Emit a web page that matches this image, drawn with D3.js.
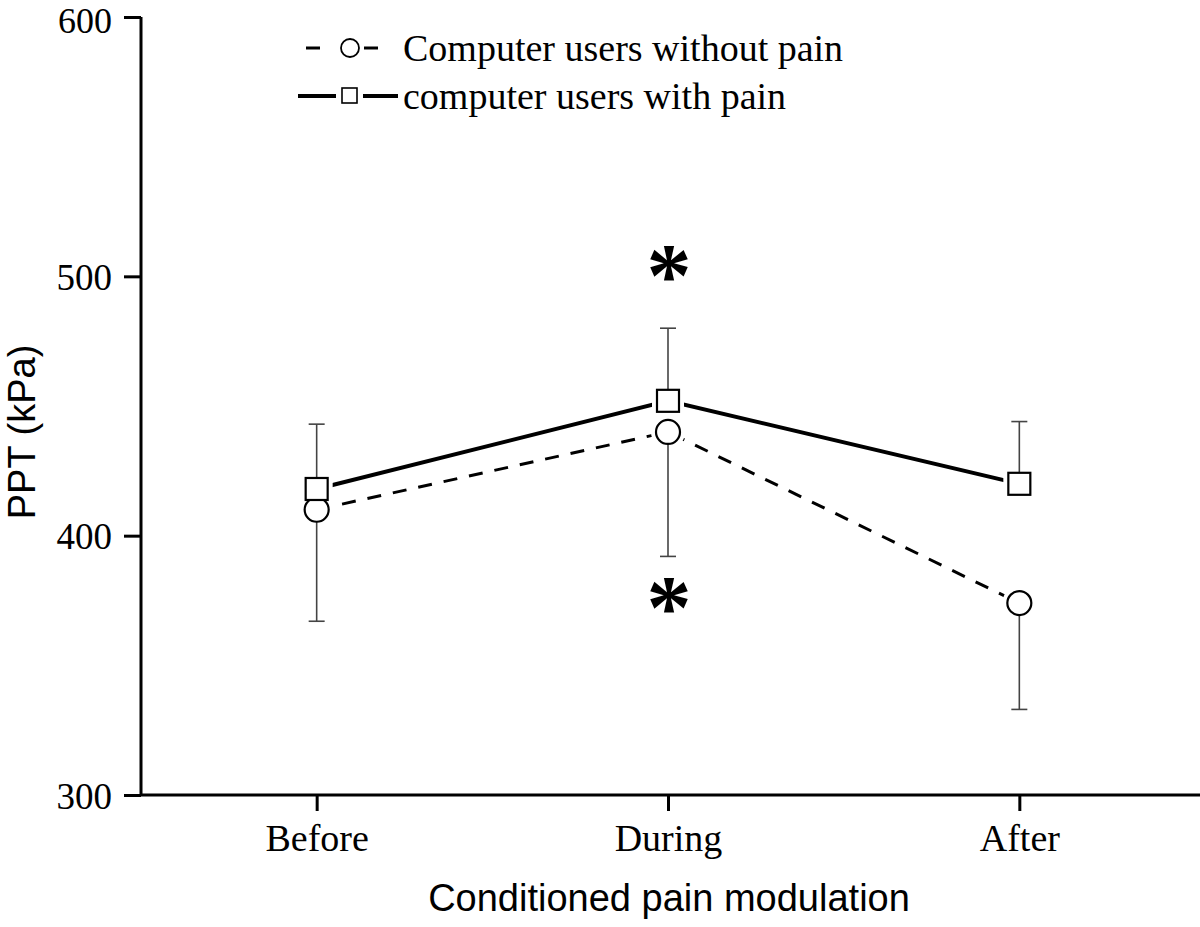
<!DOCTYPE html>
<html><head><meta charset="utf-8">
<script src="https://cdn.jsdelivr.net/npm/d3@7"></script>
<style>body{margin:0;background:#fff}</style>
</head><body>
<svg id="c" width="1200" height="927"></svg>
<script>
const categories = ["Before", "During", "After"];
const withoutPain = [410, 440, 374];
const withoutPainErrLow = [367, 392, 333];
const withPain = [418, 452, 420];
const withPainErrHigh = [443, 480, 444];
const yTicks = [300, 400, 500, 600];
const seriesNames = ["Computer users without pain", "computer users with pain"];
const asterisks = [{cat: "During", v: 505}, {cat: "During", v: 377}];

const svg = d3.select("#c");
const x = d3.scaleLinear().domain([-0.5, 2.5]).range([141, 1195]);
const y = d3.scaleLinear().domain([300, 600]).range([795, 17]);
const xc = c => x(categories.indexOf(c));
const serif = "'Liberation Serif','Times New Roman',serif";
const sans = "'Liberation Sans',Arial,sans-serif";

// axes
const yAxis = svg.append("g").attr("transform", "translate(141,0)")
  .call(d3.axisLeft(y).tickValues(yTicks).tickSize(17).tickPadding(12).tickFormat(d3.format("d")));
yAxis.select(".domain").attr("d", `M0,${y(600)}V${y(300)}`).attr("stroke-width", 3);
yAxis.selectAll(".tick line").attr("stroke-width", 3);
yAxis.selectAll("text").attr("font-family", serif).attr("font-size", 37).attr("fill", "#000").attr("dy", "0.36em");
yAxis.selectAll("text").filter(d => d === 600).attr("font-size", 36).attr("dy", "0.44em");

const xAxis = svg.append("g").attr("transform", "translate(0,795)")
  .call(d3.axisBottom(x).tickValues([0,1,2]).tickSize(16).tickPadding(13).tickFormat(i => categories[i]));
xAxis.select(".domain").attr("d", `M141,0H1200`).attr("stroke-width", 3);
xAxis.selectAll(".tick line").attr("stroke-width", 3);
xAxis.selectAll("text").attr("font-family", serif).attr("font-size", 38).attr("fill", "#000");

// titles
svg.append("text").attr("transform", "translate(35,432) rotate(-90)").attr("text-anchor", "middle")
  .attr("font-family", sans).attr("font-size", 38).text("PPT (kPa)");
svg.append("text").attr("x", 669).attr("y", 911).attr("text-anchor", "middle")
  .attr("font-family", sans).attr("font-size", 38).text("Conditioned pain modulation");

// lines
const line = d3.line().x((d,i) => x(i)).y(d => y(d));
svg.append("path").datum(withPain).attr("d", line).attr("fill", "none")
  .attr("stroke", "#000").attr("stroke-width", 4);
svg.append("path").datum(withoutPain).attr("d", line).attr("fill", "none")
  .attr("stroke", "#000").attr("stroke-width", 3).attr("stroke-dasharray", "14,12");

// white halos around markers (gap between line and marker)
svg.selectAll(".hc").data(withoutPain).enter().append("circle")
  .attr("cx", (d,i) => x(i)).attr("cy", d => y(d)).attr("r", 12)
  .attr("fill", "#fff").attr("stroke", "#fff").attr("stroke-width", 10);
svg.selectAll(".hs").data(withPain).enter().append("rect")
  .attr("x", (d,i) => x(i) - 11).attr("y", d => y(d) - 11).attr("width", 22).attr("height", 22)
  .attr("fill", "#fff").attr("stroke", "#fff").attr("stroke-width", 10);

// error bars
function errBar(xv, y0, y1) {
  svg.append("line").attr("x1", xv).attr("x2", xv).attr("y1", y(y0)).attr("y2", y(y1))
    .attr("stroke", "#444").attr("stroke-width", 1.6);
  svg.append("line").attr("x1", xv - 8).attr("x2", xv + 8).attr("y1", y(y1)).attr("y2", y(y1))
    .attr("stroke", "#444").attr("stroke-width", 1.6);
}
categories.forEach((c, i) => {
  errBar(x(i), withPain[i], withPainErrHigh[i]);
  errBar(x(i), withoutPain[i], withoutPainErrLow[i]);
});

// markers
svg.selectAll(".circ").data(withoutPain).enter().append("circle")
  .attr("cx", (d,i) => x(i)).attr("cy", d => y(d)).attr("r", 12)
  .attr("fill", "#fff").attr("stroke", "#000").attr("stroke-width", 2.2);
svg.selectAll(".sq").data(withPain).enter().append("rect")
  .attr("x", (d,i) => x(i) - 11).attr("y", d => y(d) - 11).attr("width", 22).attr("height", 22)
  .attr("fill", "#fff").attr("stroke", "#000").attr("stroke-width", 2.2);

// asterisks
const astSize = 90;
svg.selectAll(".ast").data(asterisks).enter().append("text")
  .attr("x", d => xc(d.cat) + 1).attr("y", d => y(d.v) + 0.47 * astSize).attr("text-anchor", "middle")
  .attr("font-family", serif).attr("font-weight", "bold").attr("font-size", astSize).text("*");

// legend
const lg = svg.append("g");
lg.append("line").attr("x1", 306).attr("x2", 320).attr("y1", 48).attr("y2", 48).attr("stroke", "#000").attr("stroke-width", 3);
lg.append("circle").attr("cx", 350).attr("cy", 48).attr("r", 9).attr("fill", "#fff").attr("stroke", "#000").attr("stroke-width", 1.8);
lg.append("line").attr("x1", 364).attr("x2", 378).attr("y1", 48).attr("y2", 48).attr("stroke", "#000").attr("stroke-width", 3);
lg.append("line").attr("x1", 298).attr("x2", 336).attr("y1", 96).attr("y2", 96).attr("stroke", "#000").attr("stroke-width", 4);
lg.append("rect").attr("x", 342).attr("y", 88).attr("width", 15).attr("height", 15).attr("fill", "#fff").attr("stroke", "#000").attr("stroke-width", 1.6);
lg.append("line").attr("x1", 363).attr("x2", 398).attr("y1", 96).attr("y2", 96).attr("stroke", "#000").attr("stroke-width", 4);
lg.append("text").attr("x", 403).attr("y", 61).attr("font-family", serif).attr("font-size", 38).text(seriesNames[0]);
lg.append("text").attr("x", 403).attr("y", 109).attr("font-family", serif).attr("font-size", 38).text(seriesNames[1]);
</script>
</body></html>
